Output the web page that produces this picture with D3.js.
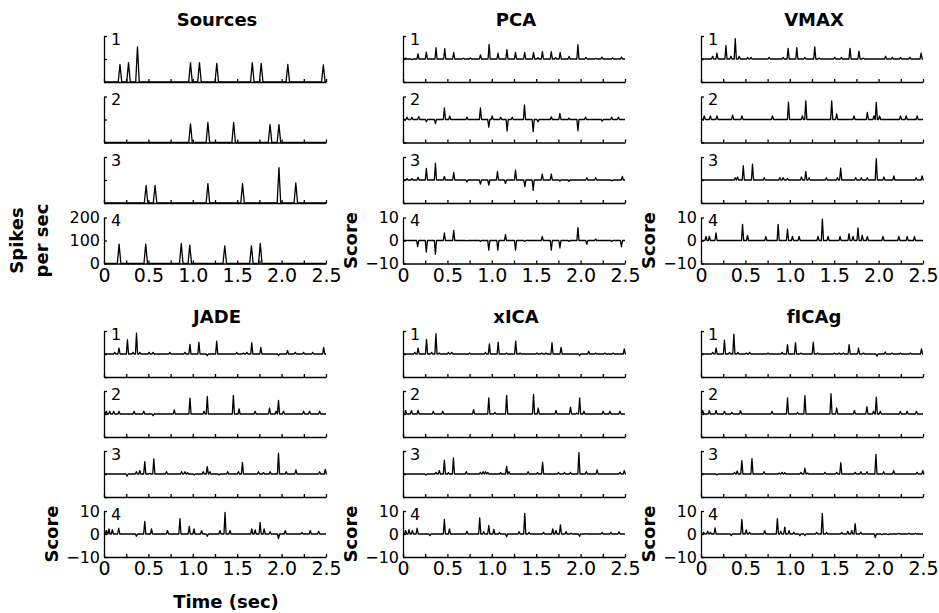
<!DOCTYPE html>
<html lang="en">
<head>
<meta charset="UTF-8">
<title>sources vs separated components</title>
<script src="https://cdn.jsdelivr.net/npm/d3@7"></script>
<style>
  body { margin: 0; background: #fff; }
  svg { font-family: "DejaVu Sans", Verdana, sans-serif; }
  .axis path, .axis line { stroke: #000; stroke-width: 1.3; }
  .trace { fill: none; stroke: #000; stroke-width: 1.3; stroke-linejoin: round; }
</style>
</head>
<body>
<script>
// spikes per trace: [time (sec), height]
var srcSpikes = [
  [[0.18,76],[0.276,84],[0.377,153],[0.974,84],[1.075,84],[1.27,81],[1.67,84],[1.77,81],[2.07,76],[2.47,74]],
  [[0.974,81],[1.17,87],[1.46,87],[1.87,78],[1.97,78]],
  [[0.474,76],[0.575,76],[1.17,84],[1.56,84],[1.97,154],[2.16,87]],
  [[0.17,84],[0.47,84],[0.87,87],[0.966,80],[1.36,77],[1.66,77],[1.76,87]]
];
var pcaSpikes = [
  [[0.03,0.4],[0.1,-0.3],[0.169,2.2],[0.263,3],[0.372,4.9],[0.47,4.5],[0.571,2.9],[0.68,0.3],[0.76,0.4],[0.872,1.8],[0.97,6.3],[1.07,2.5],[1.17,4.1],[1.267,2.9],[1.37,2.9],[1.47,2.9],[1.52,0.6],[1.57,3.2],[1.67,3.2],[1.72,0.6],[1.77,2.9],[1.87,1.1],[1.97,6.2],[2.06,0.7],[2.17,0.3],[2.24,0.8],[2.36,0.4],[2.46,0.8]],
  [[0.045,1],[0.1,1],[0.177,1.3],[0.263,-1],[0.365,-1.8],[0.466,5],[0.526,1.5],[0.72,1],[0.872,5],[0.966,-3.3],[1.004,1.5],[1.1,1],[1.173,-5],[1.23,1],[1.368,6.3],[1.466,-5.3],[1.52,-1],[1.67,1.2],[1.767,2.6],[1.87,0.6],[1.97,-4.9],[2.056,1],[2.244,-0.7],[2.35,1],[2.425,1]],
  [[0.045,0.6],[0.1,0.6],[0.17,1.2],[0.263,5],[0.365,7.3],[0.466,1.5],[0.571,3.3],[0.72,-0.8],[0.872,-1.8],[0.966,-2.2],[1.064,3.7],[1.154,-1.5],[1.267,4.3],[1.372,-2.9],[1.466,-4.5],[1.568,2.6],[1.67,2.6],[1.767,-0.5],[1.87,-0.6],[2.07,1],[2.17,1],[2.35,-0.4],[2.47,1.6]],
  [[0.165,-2.7],[0.263,-5],[0.365,-6],[0.466,3.3],[0.571,4.4],[0.72,-0.2],[0.872,-0.4],[0.966,-4.2],[1.068,-4.2],[1.154,2.6],[1.267,-4.2],[1.37,-0.4],[1.568,1.8],[1.67,-4.2],[1.767,-3.2],[1.87,-0.4],[1.97,5.6],[2.07,-1.7],[2.17,0.6],[2.35,-0.4],[2.46,-2.7]]
];
var vmaxSpikes = [
  [[0.131,1.2],[0.18,2.6],[0.281,5.9],[0.337,1.2],[0.386,8.8],[0.43,1.2],[0.524,0.7],[0.562,0.7],[0.768,0.7],[0.925,0.7],[0.981,4.6],[1.079,4.9],[1.169,0.7],[1.281,5.3],[1.33,0.4],[1.506,0.7],[1.58,0.7],[1.678,4.6],[1.779,3.4],[1.828,0.4],[2.079,1.2],[2.154,0.7],[2.247,0.7],[2.352,0.7],[2.479,2.6]],
  [[0.037,1.6],[0.105,1.6],[0.18,1.6],[0.356,1.9],[0.461,1.6],[0.805,1.6],[0.985,7.5],[1.142,1.6],[1.18,8.1],[1.472,8.1],[1.528,2.4],[1.723,1.6],[1.873,3.1],[1.948,1.6],[1.974,7.4],[2.011,1.6],[2.247,1.6],[2.311,1.6],[2.434,1.6]],
  [[0.386,1],[0.412,1.3],[0.476,6.2],[0.58,6.9],[0.712,1],[0.888,1],[0.925,1],[0.974,0.7],[1.131,1.3],[1.18,3.7],[1.217,1],[1.412,1],[1.536,1],[1.573,5.1],[1.742,1],[1.805,1],[1.873,1],[1.974,9.3],[2.06,1.3],[2.172,1.8],[2.423,1],[2.49,1.8]],
  [[0.056,1.8],[0.094,1.8],[0.169,3.3],[0.468,7],[0.524,2.2],[0.73,1.8],[0.869,7],[0.974,4.9],[1.03,1.8],[1.105,1.8],[1.318,1.8],[1.367,9.3],[1.431,1.8],[1.566,1.8],[1.667,3],[1.712,1.8],[1.768,5.5],[1.816,2.2],[1.873,1.8],[2.049,1.8],[2.228,1.8],[2.322,1.8],[2.404,1.8]]
];
var jadeSpikes = [
  [[0.12,0.7],[0.169,2.6],[0.264,6.2],[0.328,0.7],[0.366,9.1],[0.403,0.7],[0.508,0.7],[0.553,0.7],[0.742,0.7],[0.911,0.7],[0.968,4.2],[1.069,5.1],[1.163,-0.7],[1.269,5.6],[1.495,0.7],[1.57,0.4],[1.608,0.7],[1.664,4.9],[1.766,2.9],[1.965,-0.7],[2.067,1.5],[2.154,0.7],[2.248,0.7],[2.349,0.7],[2.474,2.9]],
  [[0.026,1.2],[0.064,1.2],[0.109,1.2],[0.169,1.2],[0.339,1.2],[0.448,1.2],[0.553,-0.7],[0.791,1.8],[0.968,6.9],[1.126,1.2],[1.163,7.6],[1.457,8.1],[1.521,2.2],[1.702,1.2],[1.864,2.6],[1.939,1.2],[1.965,5.9],[2.022,1.2],[2.248,1.2],[2.315,1.2],[2.428,1.2]],
  [[0.26,-0.9],[0.365,1],[0.403,1.5],[0.459,5.4],[0.516,0.3],[0.561,6.6],[0.704,1],[0.874,1],[0.911,1],[0.941,0.6],[1.017,-0.4],[1.118,1],[1.163,3.2],[1.193,1],[1.295,-0.4],[1.393,1],[1.514,1],[1.559,5],[1.739,1],[1.796,0.6],[1.871,1],[1.965,9.1],[2.052,1],[2.161,1.8],[2.428,1],[2.492,2]],
  [[0.026,1.5],[0.056,2.2],[0.094,1.9],[0.166,2.5],[0.365,-1],[0.459,5.5],[0.535,2.2],[0.715,1.5],[0.855,6.7],[0.96,3.3],[1.013,2.2],[1.099,1.5],[1.163,-1],[1.306,1.5],[1.363,9.4],[1.419,1.5],[1.664,2.2],[1.702,1.8],[1.758,5],[1.803,2.2],[1.871,1],[1.965,-2],[2.041,1.5],[2.229,0.7],[2.323,1.5],[2.417,1.2]]
];
var xicaSpikes = [
  [[0.133,0.7],[0.17,2.6],[0.265,6.3],[0.322,0.7],[0.371,8.8],[0.409,0.4],[0.511,0.7],[0.549,0.7],[0.75,0.4],[0.928,0.7],[0.973,4.4],[1.072,5.1],[1.167,0.4],[1.269,5.6],[1.318,0.4],[1.508,0.4],[1.561,0.4],[1.61,0.4],[1.678,4.9],[1.78,2.9],[1.989,-0.7],[2.091,1.2],[2.17,0.4],[2.273,0.4],[2.367,0.4],[2.492,2.2]],
  [[0.03,1.6],[0.095,1.6],[0.17,1.6],[0.341,1.2],[0.447,1.2],[0.795,1.9],[0.966,7],[1.034,0.7],[1.167,8.1],[1.47,8.5],[1.523,2.6],[1.723,1.6],[1.886,3],[1.958,0.4],[1.989,7],[2.038,1.2],[2.254,1.2],[2.33,1.2],[2.443,1.2]],
  [[0.258,-0.4],[0.371,0.7],[0.409,1.5],[0.466,6],[0.511,0.6],[0.568,7],[0.712,1],[0.871,0.7],[0.902,1],[0.928,1],[0.955,0.7],[1.098,0.6],[1.167,3.3],[1.193,1],[1.409,1],[1.515,0.6],[1.572,5.1],[1.75,0.7],[1.818,0.7],[1.886,0.7],[1.981,9.3],[2.064,1],[2.186,1.8],[2.443,0.7],[2.492,1.5]],
  [[0.03,1.5],[0.068,1.9],[0.106,1.5],[0.159,2.5],[0.303,-0.7],[0.466,6.3],[0.523,2.2],[0.72,1.2],[0.864,7],[0.909,1],[0.966,3.7],[1.023,2],[1.087,0.7],[1.167,-1.2],[1.307,1],[1.371,9],[1.42,0.7],[1.583,0.7],[1.686,2.2],[1.723,1.5],[1.773,4],[1.837,1],[1.894,0.3],[1.989,-1],[2.064,0.2],[2.242,0.7],[2.341,0.7],[2.432,1]]
];
var ficagSpikes = [
  [[0.132,0.7],[0.17,2.6],[0.264,6],[0.321,0.7],[0.37,8.6],[0.415,0.7],[0.509,0.4],[0.547,0.7],[0.755,0.4],[0.913,0.7],[0.974,4.1],[1.064,4.9],[1.125,0.4],[1.264,5.1],[1.313,0.4],[1.502,0.4],[1.555,0.4],[1.604,0.4],[1.668,4.1],[1.774,2.6],[1.83,0.4],[1.981,-1],[2.075,0.9],[2.151,0.4],[2.245,0.4],[2.358,0.4],[2.483,2.2]],
  [[0.019,1.5],[0.094,1.5],[0.17,1.5],[0.264,1.2],[0.347,0.7],[0.445,1.5],[0.8,1.2],[0.974,7],[1.087,0.7],[1.17,8],[1.464,8.8],[1.528,2.6],[1.728,1.5],[1.868,3.2],[1.943,1.2],[1.974,7.3],[2.019,1.2],[2.245,1.2],[2.321,1.2],[2.426,1.2]],
  [[0.181,-0.4],[0.377,0.7],[0.408,1.3],[0.46,5.8],[0.574,6.7],[0.709,1],[0.879,0.4],[0.913,0.7],[0.943,0.6],[1.125,0.7],[1.17,2.5],[1.2,0.4],[1.396,0.7],[1.528,0.7],[1.574,4.9],[1.736,0.7],[1.8,1],[1.868,1],[1.97,8.5],[2.057,1],[2.17,1.5],[2.434,0.7],[2.498,1.5]],
  [[0.03,0.7],[0.075,1.2],[0.106,0.7],[0.158,2.7],[0.34,-0.7],[0.46,6.3],[0.509,1.8],[0.547,0.7],[0.717,1.5],[0.86,6.7],[0.898,1.2],[0.943,3],[0.992,1.5],[1.045,0.7],[1.113,-0.7],[1.17,-0.7],[1.302,0.7],[1.366,9],[1.415,0.7],[1.585,0.7],[1.653,1.2],[1.698,1.5],[1.736,4.5],[1.8,0.7],[1.962,-1.5],[2.038,-0.3],[2.106,-0.3],[2.226,0.3],[2.34,0.3],[2.415,0.3]]
];

var panelTitles = ["Sources", "PCA", "VMAX", "JADE", "xICA", "fICAg"];
var traceNames = ["1", "2", "3", "4"];
var tickTimes = [0, 0.25, 0.5, 0.75, 1, 1.25, 1.5, 1.75, 2, 2.25, 2.5];
var timeLabels = [0, 0.5, 1, 1.5, 2, 2.5];
var rateTicks = [0, 100, 200];
var scoreTicks = [-10, 0, 10];

var W = 939, H = 613;
var colX = [104, 403, 701];
var pw = 222;          // plot width
var rowTop = [36, 331];
var pitch = [60.5, 60];
var th = 46;           // trace height
var titleY = [26, 323];

var svg = d3.select("body").append("svg").attr("width", W).attr("height", H);

var panels = [
  { title: panelTitles[0], spikes: srcSpikes, col: 0, row: 0, dom: [0, 200], ticks: rateTicks, hw: 0.02 },
  { title: panelTitles[1], spikes: pcaSpikes, col: 1, row: 0, dom: [-10, 10], ticks: scoreTicks, hw: 0.012 },
  { title: panelTitles[2], spikes: vmaxSpikes, col: 2, row: 0, dom: [-10, 10], ticks: scoreTicks, hw: 0.012 },
  { title: panelTitles[3], spikes: jadeSpikes, col: 0, row: 1, dom: [-10, 10], ticks: scoreTicks, hw: 0.012 },
  { title: panelTitles[4], spikes: xicaSpikes, col: 1, row: 1, dom: [-10, 10], ticks: scoreTicks, hw: 0.012 },
  { title: panelTitles[5], spikes: ficagSpikes, col: 2, row: 1, dom: [-10, 10], ticks: scoreTicks, hw: 0.012 }
];

var fmtTime = function (d) { return d === 0 ? "0" : d3.format(".1f")(d); };

// turn spike list into a trace: flat baseline with a narrow peak at each spike
function traceOf(sp, hw) {
  var pts = [[0, 0]];
  sp.slice().sort(function (a, b) { return a[0] - b[0]; }).forEach(function (s) {
    pts.push([s[0] - hw, 0], [s[0], s[1]], [s[0] + hw, 0]);
  });
  pts.push([2.5, 0]);
  return pts;
}

panels.forEach(function (p) {
  var x0 = colX[p.col];
  var x = d3.scaleLinear().domain([0, 2.5]).range([x0, x0 + pw]);
  var g = svg.append("g");

  g.append("text")
    .attr("x", x0 + pw / 2 + 2).attr("y", titleY[p.row])
    .attr("text-anchor", "middle")
    .attr("font-size", 18).attr("font-weight", "bold")
    .text(p.title);

  p.spikes.forEach(function (sp, i) {
    var top = rowTop[p.row] + pitch[p.row] * i;
    var y = d3.scaleLinear().domain(p.dom).range([top + th, top]);
    var last = i === 3;

    g.append("g").attr("class", "axis")
      .attr("transform", "translate(0," + (top + th) + ")")
      .call(d3.axisBottom(x).tickValues(tickTimes).tickSize(-3).tickSizeOuter(0).tickFormat(""));

    var ya = g.append("g").attr("class", "axis")
      .attr("transform", "translate(" + x0 + ",0)")
      .call(d3.axisLeft(y).tickValues(p.ticks).tickSize(-3).tickSizeOuter(0).tickPadding(4)
        .tickFormat(last ? d3.format("d") : ""));
    ya.selectAll("text").attr("font-size", 16).attr("fill", "#000")
      .attr("font-family", "DejaVu Sans, sans-serif");

    if (last) {
      var xa = g.append("g").attr("class", "axis")
        .attr("transform", "translate(0," + (top + th) + ")")
        .call(d3.axisBottom(x).tickValues(timeLabels).tickSize(0).tickPadding(5).tickFormat(fmtTime));
      xa.select(".domain").remove();
      xa.selectAll("text").attr("font-size", 19).attr("fill", "#000")
        .attr("font-family", "DejaVu Sans, sans-serif");
    }

    g.append("path").attr("class", "trace")
      .attr("d", d3.line().x(function (d) { return x(d[0]); }).y(function (d) { return y(d[1]); })(traceOf(sp, p.hw)));

    g.append("text")
      .attr("x", x0 + 7).attr("y", top + 4)
      .attr("dominant-baseline", "middle")
      .attr("font-size", 16)
      .text(traceNames[i]);
  });

  var mid4 = rowTop[p.row] + pitch[p.row] * 3 + th / 2;
  if (p.col === 0 && p.row === 0) {
    svg.append("text").attr("transform", "translate(18," + mid4 + ") rotate(-90)")
      .attr("text-anchor", "middle").attr("dominant-baseline", "middle")
      .attr("font-size", 18).attr("font-weight", "bold").text("Spikes");
    svg.append("text").attr("transform", "translate(43," + mid4 + ") rotate(-90)")
      .attr("text-anchor", "middle").attr("dominant-baseline", "middle")
      .attr("font-size", 18).attr("font-weight", "bold").text("per sec");
  } else {
    svg.append("text").attr("transform", "translate(" + (x0 - 51) + "," + mid4 + ") rotate(-90)")
      .attr("text-anchor", "middle").attr("dominant-baseline", "middle")
      .attr("font-size", 18).attr("font-weight", "bold").text("Score");
  }
});

svg.append("text")
  .attr("x", 226).attr("y", 608)
  .attr("text-anchor", "middle")
  .attr("font-size", 18).attr("font-weight", "bold")
  .text("Time (sec)");
</script>
</body>
</html>
